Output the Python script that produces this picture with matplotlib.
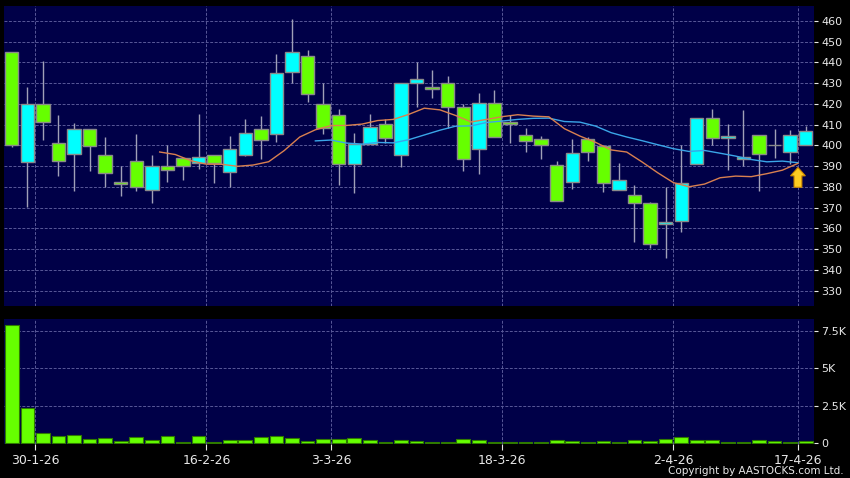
import matplotlib
matplotlib.use('Agg')
import matplotlib.pyplot as plt
from matplotlib.patches import FancyArrow
import numpy as np
import pandas as pd

# ---- data ----
opens = [445, 392, 420, 401, 396, 407.7, 395.2, 382.3, 392.3, 378.3,
         389.9, 393.7, 391.3, 395.2, 387.3, 395.2, 407.7, 405.3, 435.1, 443.1,
         420, 414.7, 390.8, 400.8, 410.1, 395.2, 429.8, 428.2, 430.1, 418.3,
         398, 420.5, 411, 405.1, 402.9, 390.3, 382.2, 402.9, 399.6, 378.3,
         375.9, 372, 361.9, 363.4, 390.8, 413, 403.5, 393.2, 404.8, 400,
         396.6, 400]
highs = [445, 428, 440.4, 414.4, 410.6, 408, 404, 390, 405.4, 395.3,
         400, 394, 414.9, 395.5, 404.5, 412.6, 414, 444, 461, 446,
         429.8, 417.3, 405.9, 414.9, 412.6, 430.1, 440.1, 436.2, 433.4, 419.9,
         425, 426.6, 414.6, 408.3, 404.5, 392.3, 402.9, 403.8, 400, 391.5,
         380.9, 372.8, 380.1, 400.1, 413, 417.5, 410.2, 417, 404.8, 408,
         407.5, 409.4]
lows = [399, 370.4, 402.7, 385, 378, 387.8, 380, 375.7, 378, 372,
        382.5, 383.4, 388.7, 382, 380, 395, 393.4, 401.7, 430, 421,
        405.6, 380.9, 376.9, 400.8, 400.9, 389.4, 418.6, 422.9, 408.5, 387.8,
        386, 404, 401.3, 396.8, 393.5, 373, 378.8, 392.6, 377.7, 378.3,
        353.6, 350.7, 345.5, 358.4, 390.8, 400, 388.1, 390.2, 378.1, 393.9,
        391.1, 400]
closes = [400, 420, 411, 392.3, 407.7, 399.5, 386.5, 381.2, 379.7, 389.9,
          387.9, 390.2, 394.3, 391.6, 398, 405.7, 402.4, 435, 445.1, 424.5,
          408.3, 390.8, 400.8, 408.6, 403.5, 430.1, 432.1, 426.9, 418.3, 393.2,
          420.5, 404, 410.1, 401.9, 400, 373, 396.4, 396.9, 381.7, 383.1,
          372, 352.3, 362.9, 382, 413, 403.5, 404.3, 394.2, 396, 400,
          404.8, 406.9]
volumes = [7870, 2360, 690, 510, 580, 270, 330, 160, 420, 200,
           470, 90, 490, 90, 220, 200, 420, 510, 360, 130,
           270, 310, 330, 200, 90, 220, 180, 90, 90, 270,
           220, 90, 90, 70, 70, 240, 180, 90, 180, 70,
           240, 180, 310, 420, 200, 200, 90, 90, 200, 180,
           70, 160]
date_labels = ['30-1-26', '16-2-26', '3-3-26', '18-3-26', '2-4-26', '17-4-26']
date_candles = [1, 12, 20, 31, 42, 50]
price_ticks = list(range(330, 461, 10))
vol_ticks = [0, 2500, 5000, 7500]
vol_tick_labels = ['0', '2.5K', '5K', '7.5K']

# ---- styling ----
BG = '#000000'
PANEL = '#000048'
GRID = '#585898'
UP = '#00ffff'
DOWN = '#66ff00'
EDGE = '#8a8a8a'
WICK = '#a0a0b8'
TXT = '#e8e8e8'
GRID_KW = dict(color=GRID, lw=0.7, ls=(0, (3, 1.6)), zorder=0)

n = len(closes)
x = np.arange(n)
o = np.array(opens); c = np.array(closes); h = np.array(highs); l = np.array(lows)

fig = plt.figure(figsize=(8.5, 4.78), dpi=100, facecolor=BG)
ax = fig.add_axes([4/850, 1-306/478, (814.3-4)/850, 300/478])
axv = fig.add_axes([4/850, 1-444/478, (814.3-4)/850, 125/478])

grid_x = np.array(date_candles) + 0.5
for a in (ax, axv):
    a.set_facecolor(PANEL)
    for s in a.spines.values():
        s.set_visible(False)
    a.set_xlim(-0.5, 51.55)
    for gx in grid_x:
        a.axvline(gx, **GRID_KW)
    a.yaxis.tick_right()
    a.tick_params(axis='y', colors=TXT, labelsize=8, length=3, width=0.8, pad=2)

# price panel
ax.set_ylim(322.6, 467.1)
ax.set_yticks(price_ticks)
ax.set_yticklabels([str(t) for t in price_ticks])
for t in price_ticks:
    ax.axhline(t, **GRID_KW)
ax.set_xticks([])

ax.vlines(x, l, h, color=WICK, lw=1, zorder=1)
body_bottom = np.minimum(o, c)
body_h = np.abs(c - o)
colors = [UP if cc > oo else (DOWN if cc < oo else '#b0b0b0') for oo, cc in zip(o, c)]
ax.bar(x, body_h, bottom=body_bottom, width=0.86, color=colors,
       edgecolor=EDGE, linewidth=1, zorder=3)

# moving averages (computed from closes; last candle not yet included)
s = pd.Series(closes[:-1])
ma10 = s.rolling(10).mean()
ma20 = s.rolling(20).mean()
xm = np.arange(n - 1) + 0.5
ax.plot(xm, ma20, color='#3aa6e8', lw=1.0, zorder=4)
ax.plot(xm, ma10, color='#d98050', lw=1.0, zorder=4)

# arrow at the end of the averages
tip = float(ma10.iloc[-1]) - 2.0
ax.add_patch(FancyArrow(xm[-1], tip - 9.5, 0, 9.5, width=0.5, head_width=0.95,
                        head_length=4.0, length_includes_head=True,
                        facecolor='#ffcc22', edgecolor='#d08a00', lw=0.8, zorder=6))

# volume panel
axv.set_ylim(-40, 8280)
axv.set_yticks(vol_ticks)
axv.set_yticklabels(vol_tick_labels)
for t in vol_ticks[1:]:
    axv.axhline(t, **GRID_KW)
axv.bar(x, volumes, width=0.88, color=DOWN, edgecolor='#2f7a00', linewidth=0.8, zorder=3)
axv.set_xticks(grid_x)
axv.set_xticklabels(date_labels)
axv.tick_params(axis='x', colors=TXT, labelsize=9, length=4, width=0.8, pad=3)

fig.text(844/850, 1-471/478, 'Copyright by AASTOCKS.com Ltd.', color=TXT,
         fontsize=7.5, ha='right', va='center')

fig.savefig('out.png', dpi=100, facecolor=BG)
